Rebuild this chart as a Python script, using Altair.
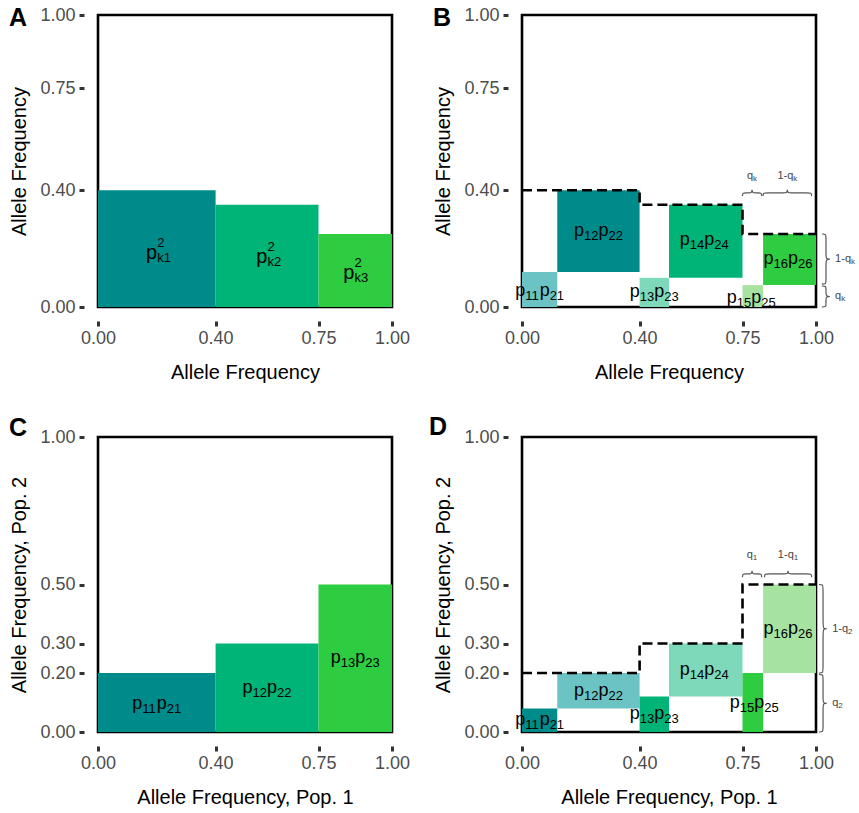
import altair as alt
import pandas as pd

W = 294
H_TOP, H_BOT = 292, 295
FONT = "Liberation Sans"

# ---------------- Panel A ----------------
a_x0 = [0.00, 0.40, 0.75]
a_x1 = [0.40, 0.75, 1.00]
a_h = [0.40, 0.35, 0.25]
a_col = ["#008B8B", "#00B377", "#2ECC40"]
a_lab_x = [0.198, 0.573, 0.869]
a_lab_y = [0.186, 0.172, 0.117]
a_sub = ["k1", "k2", "k3"]

# ---------------- Panel B ----------------
b_x0 = [0.00, 0.12, 0.40, 0.50, 0.75, 0.82]
b_x1 = [0.12, 0.40, 0.50, 0.75, 0.82, 1.00]
b_y0 = [0.00, 0.12, 0.00, 0.10, 0.00, 0.075]
b_y1 = [0.12, 0.40, 0.10, 0.35, 0.075, 0.25]
b_col = ["#6CC3C3", "#008B8B", "#7DD9BA", "#00B377", "#A6E3A0", "#2ECC40"]
b_sub1 = ["11", "12", "13", "14", "15", "16"]
b_sub2 = ["21", "22", "23", "24", "25", "26"]
b_lab_x = [0.06, 0.26, 0.45, 0.62, 0.78, 0.905]
b_lab_y = [0.055, 0.26, 0.05, 0.23, 0.03, 0.165]
b_top_spans = [(0.75, 0.815), (0.82, 0.985)]
b_top_base, b_top_lab_y = 0.38, 0.45
b_top_labs = [("q", "k"), ("1-q", "k")]
b_right_spans = [(0.078, 0.25), (0.0, 0.072)]
b_right_base = 1.02
b_right_labs = [("1-q", "k"), ("q", "k")]

# ---------------- Panel C ----------------
c_x0 = [0.00, 0.40, 0.75]
c_x1 = [0.40, 0.75, 1.00]
c_h = [0.20, 0.30, 0.50]
c_col = ["#008B8B", "#00B377", "#2ECC40"]
c_sub1 = ["11", "12", "13"]
c_sub2 = ["21", "22", "23"]
c_lab_x = [0.20, 0.575, 0.875]
c_lab_y = [0.095, 0.15, 0.25]

# ---------------- Panel D ----------------
d_x0 = [0.00, 0.12, 0.40, 0.50, 0.75, 0.82]
d_x1 = [0.12, 0.40, 0.50, 0.75, 0.82, 1.00]
d_y0 = [0.00, 0.08, 0.00, 0.12, 0.00, 0.20]
d_y1 = [0.08, 0.20, 0.12, 0.30, 0.20, 0.50]
d_col = ["#008B8B", "#6CC3C3", "#00B377", "#7DD9BA", "#2ECC40", "#A6E3A0"]
d_sub1 = ["11", "12", "13", "14", "15", "16"]
d_sub2 = ["21", "22", "23", "24", "25", "26"]
d_lab_x = [0.06, 0.26, 0.45, 0.62, 0.79, 0.905]
d_lab_y = [0.04, 0.14, 0.06, 0.21, 0.10, 0.35]
d_top_spans = [(0.75, 0.815), (0.825, 0.985)]
d_top_base, d_top_lab_y = 0.525, 0.60
d_top_labs = [("q", "1"), ("1-q", "1")]
d_right_spans = [(0.20, 0.50), (0.0, 0.195)]
d_right_base = 1.01
d_right_labs = [("1-q", "2"), ("q", "2")]

xticks = [0.0, 0.40, 0.75, 1.0]
yticks_ab = [0.0, 0.40, 0.75, 1.0]
yticks_cd = [0.0, 0.20, 0.30, 0.50, 1.0]

AX = dict(format=".2f", grid=False, domain=False, ticks=True, tickSize=5, tickWidth=3,
          tickColor="#333333", offset=14, labelFontSize=18, labelColor="#4D4D4D",
          labelFont=FONT, titleFont=FONT, titleFontSize=20, titleFontWeight="normal",
          titleColor="black", labelFlush=False)


def xenc(field, title, ticks):
    return alt.X(field, type="quantitative",
                 scale=alt.Scale(domain=[0, 1], nice=False, zero=False),
                 axis=alt.Axis(values=ticks, title=title, labelPadding=3, titlePadding=15, **AX))


def yenc(field, title, ticks):
    return alt.Y(field, type="quantitative",
                 scale=alt.Scale(domain=[0, 1], nice=False, zero=False),
                 axis=alt.Axis(values=ticks, title=title, labelPadding=4, titlePadding=10, **AX))


def brace_df(spans, base, h, vertical, start_id):
    rows = []
    for i, (a, b) in enumerate(spans):
        m = (a + b) / 2
        d = min(0.012, (b - a) / 4)
        along = [a, a, a + d, m - d, m, m, m, m + d, b - d, b, b]
        across = [0, .5, .5, .5, .5, 1.2, .5, .5, .5, .5, 0]
        for k, (al, ac) in enumerate(zip(along, across)):
            c = base + ac * h
            if vertical:
                rows.append({"bx": c, "by": al, "id": start_id + i, "o": k})
            else:
                rows.append({"bx": al, "by": c, "id": start_id + i, "o": k})
    return rows


def step_df(x0, x1, h):
    rows = []
    k = 0
    for a, b, v in zip(x0, x1, h):
        rows.append({"sx": a, "sy": v, "o": k}); k += 1
        rows.append({"sx": b, "sy": v, "o": k}); k += 1
    return pd.DataFrame(rows)


def letter(ch, dx, dy):
    return alt.Chart(pd.DataFrame({"t": [ch]})).mark_text(
        font=FONT, fontSize=25, fontWeight="bold", align="center", baseline="middle",
        color="black").encode(x=alt.value(dx), y=alt.value(dy), text="t:N")


def pp_labels(lx, ly, s1, s2):
    """p_{s1} p_{s2} labels composed of main and subscript pieces."""
    df = pd.DataFrame({"lx": lx, "ly": ly, "s1": s1, "s2": s2, "p": ["p"] * len(lx)})
    out = []
    for field, size, dx, dy in [("p", 18, -24.5, 0), ("s1", 13, -14.5, 5),
                                ("p", 18, 0, 0), ("s2", 13, 10, 5)]:
        out.append(alt.Chart(df).mark_text(font=FONT, fontSize=size, color="black",
                                           align="left", baseline="middle", dx=dx, dy=dy)
                   .encode(x="lx:Q", y="ly:Q", text=f"{field}:N"))
    return out


def panel(rx0, rx1, ry0, ry1, cols, s1, s2, lx, ly, xt, yt, yticks, ch, chx, chy):
    rects = pd.DataFrame({"x0": rx0, "x1": rx1, "y0": ry0, "y1": ry1, "c": cols})
    layers = [alt.Chart(rects).mark_rect(strokeWidth=0).encode(
        x=xenc("x0", xt, xticks), x2="x1",
        y=yenc("y0", yt, yticks), y2="y1",
        color=alt.Color("c:N", scale=None))]
    if s1 is not None:
        layers += pp_labels(lx, ly, s1, s2)
    layers.append(letter(ch, chx, chy))
    return layers


MW = {"q": 6.1, "1-q": 15.9}
SW = {"k": 4.0, "1": 4.5, "2": 4.5}


def brace_label(x, y, main, sub, centered):
    df = pd.DataFrame({"tx": [x], "ty": [y], "m": [main], "s": [sub]})
    if centered:
        dxm = (MW[main] - SW[sub]) / 2
        m = alt.Chart(df).mark_text(font=FONT, fontSize=11, color="#444444", align="right",
                                    baseline="middle", dx=dxm)
        s = alt.Chart(df).mark_text(font=FONT, fontSize=8, color="#444444", align="left",
                                    baseline="middle", dx=dxm, dy=3)
    else:
        m = alt.Chart(df).mark_text(font=FONT, fontSize=11, color="#444444", align="left",
                                    baseline="middle")
        s = alt.Chart(df).mark_text(font=FONT, fontSize=8, color="#444444", align="left",
                                    baseline="middle", dx=MW[main], dy=3)
    return [m.encode(x="tx:Q", y="ty:Q", text="m:N"), s.encode(x="tx:Q", y="ty:Q", text="s:N")]


def extras(x0, x1, h, top_spans, top_base, top_lab_y, top_labs, right_spans, right_base, right_labs):
    sd = step_df(x0, x1, h)
    out = [alt.Chart(sd).mark_line(color="black", strokeWidth=2.6, strokeDash=[10, 5]).encode(
        x="sx:Q", y="sy:Q", order="o:Q")]
    rows = brace_df(top_spans, top_base, 0.022, False, 0) + \
        brace_df(right_spans, right_base, 0.028, True, 10)
    bdf = pd.DataFrame(rows)
    out.append(alt.Chart(bdf).mark_line(color="#555555", strokeWidth=1.2, interpolate="basis").encode(
        x="bx:Q", y="by:Q", detail="id:N", order="o:Q"))
    for (a, b), (mn, sb) in zip(top_spans, top_labs):
        out += brace_label((a + b) / 2, top_lab_y, mn, sb, True)
    for (a, b), (mn, sb) in zip(right_spans, right_labs):
        out += brace_label(right_base + 0.045, (a + b) / 2, mn, sb, False)
    return out


# Panel A
A_layers = panel(a_x0, a_x1, [0, 0, 0], a_h, a_col, None, None, None, None,
                 "Allele Frequency", "Allele Frequency", yticks_ab, "A", -80, 3)
adf = pd.DataFrame({"lx": a_lab_x, "ly": a_lab_y, "s": a_sub, "p": ["p"] * 3, "two": ["2"] * 3})
A_layers += [
    alt.Chart(adf).mark_text(font=FONT, fontSize=20, color="black", align="right",
                             baseline="middle", dx=1).encode(x="lx:Q", y="ly:Q", text="p:N"),
    alt.Chart(adf).mark_text(font=FONT, fontSize=13, color="black", align="left",
                             baseline="middle", dx=1, dy=-10).encode(x="lx:Q", y="ly:Q", text="two:N"),
    alt.Chart(adf).mark_text(font=FONT, fontSize=13, color="black", align="left",
                             baseline="middle", dx=1, dy=5).encode(x="lx:Q", y="ly:Q", text="s:N"),
]
A = alt.layer(*A_layers).properties(width=W, height=H_TOP)

B_layers = panel(b_x0, b_x1, b_y0, b_y1, b_col, b_sub1, b_sub2, b_lab_x, b_lab_y,
                 "Allele Frequency", "Allele Frequency", yticks_ab, "B", -80, 3)
B_layers += extras(a_x0, a_x1, a_h, b_top_spans, b_top_base, b_top_lab_y, b_top_labs,
                   b_right_spans, b_right_base, b_right_labs)
B = alt.layer(*B_layers).properties(width=W, height=H_TOP)

C_layers = panel(c_x0, c_x1, [0, 0, 0], c_h, c_col, c_sub1, c_sub2, c_lab_x, c_lab_y,
                 "Allele Frequency, Pop. 1", "Allele Frequency, Pop. 2", yticks_cd, "C", -80, -9)
C = alt.layer(*C_layers).properties(width=W, height=H_BOT)

D_layers = panel(d_x0, d_x1, d_y0, d_y1, d_col, d_sub1, d_sub2, d_lab_x, d_lab_y,
                 "Allele Frequency, Pop. 1", "Allele Frequency, Pop. 2", yticks_cd, "D", -84, -10)
D_layers += extras(c_x0, c_x1, c_h, d_top_spans, d_top_base, d_top_lab_y, d_top_labs,
                   d_right_spans, d_right_base, d_right_labs)
D = alt.layer(*D_layers).properties(width=W, height=H_BOT)

chart = alt.concat(A, B, C, D, columns=2, spacing=130, bounds="flush").properties(
    padding={"left": 7, "top": 4, "right": 0, "bottom": 0}
).configure(font=FONT, view=alt.ViewConfig(stroke="black", strokeWidth=2.6))

chart.save("out.html", embed_options={"renderer": "svg", "actions": False})
